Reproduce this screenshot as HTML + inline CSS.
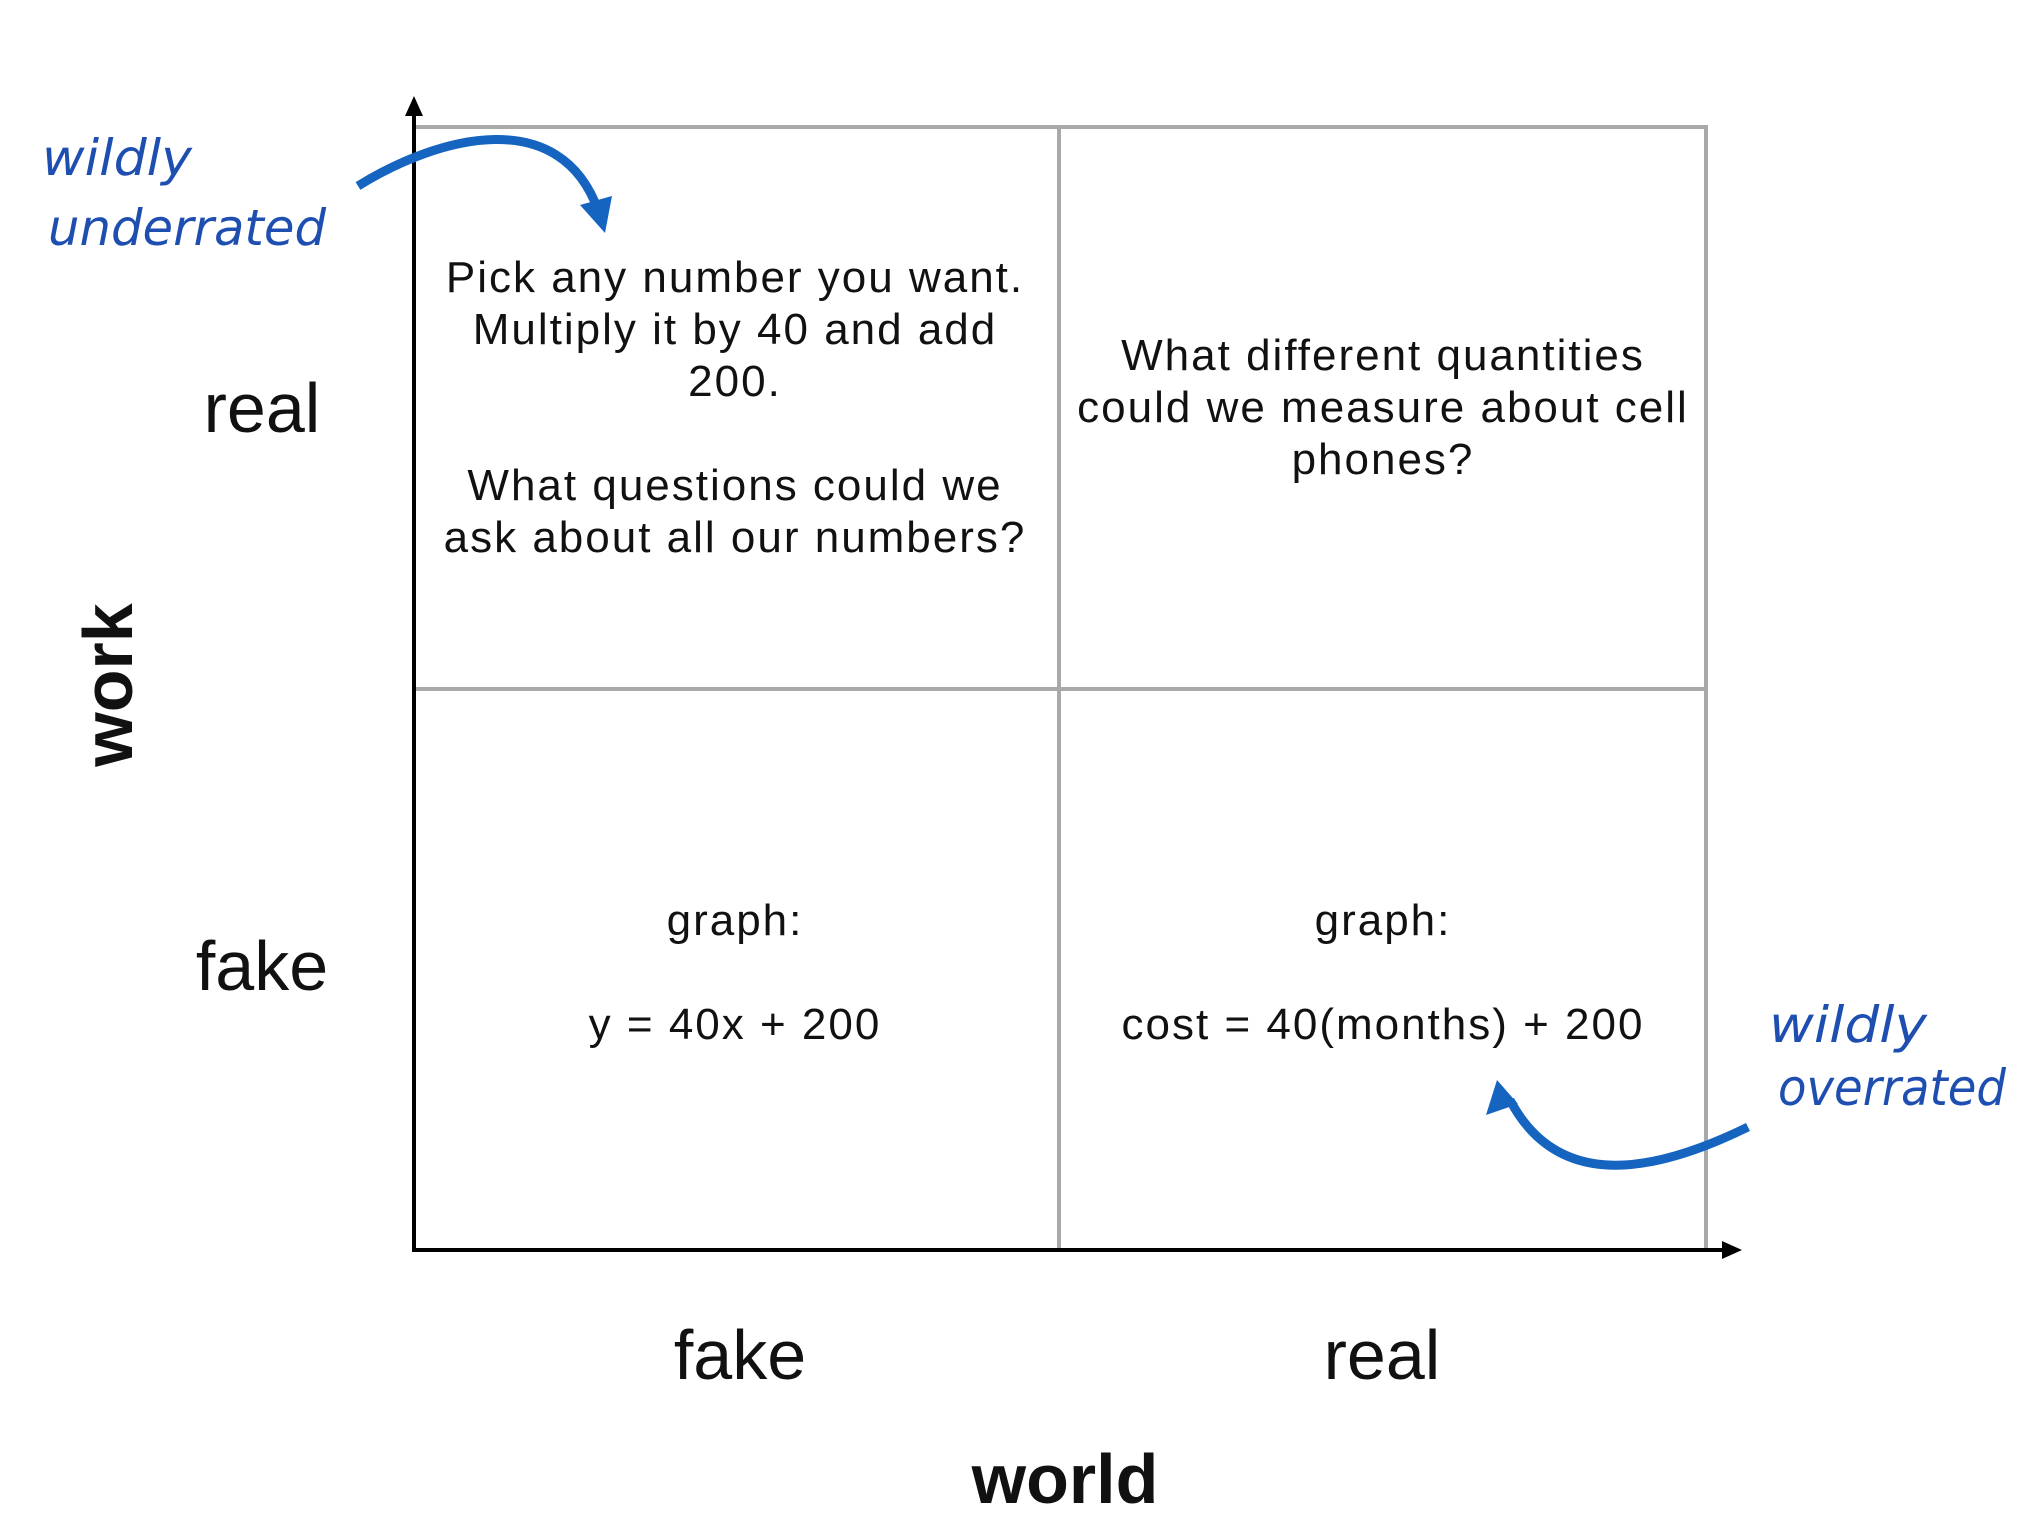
<!DOCTYPE html>
<html><head><meta charset="utf-8"><style>
html,body{margin:0;padding:0;background:#fff;}
svg{display:block;}
</style></head><body>
<svg width="2044" height="1530" viewBox="0 0 2044 1530" xmlns="http://www.w3.org/2000/svg">
<g stroke="#a9a9a9" stroke-width="4" fill="none">
<rect x="414" y="127" width="1292" height="1123"/>
<line x1="1059" y1="127" x2="1059" y2="1250"/>
<line x1="414" y1="689" x2="1706" y2="689"/>
</g>
<g stroke="#000" stroke-width="4">
<line x1="414" y1="112" x2="414" y2="1250"/>
<line x1="412" y1="1250" x2="1726" y2="1250"/>
</g>
<polygon points="414,96 405,116 423,116" fill="#000"/>
<polygon points="1742,1250 1722,1241 1722,1259" fill="#000"/>
<g font-family="Liberation Sans, sans-serif" font-size="44" fill="#111" text-anchor="middle" letter-spacing="2">
<text x="735" y="292">Pick any number you want.</text>
<text x="735" y="344">Multiply it by 40 and add</text>
<text x="735" y="396">200.</text>
<text x="735" y="500">What questions could we</text>
<text x="735" y="552">ask about all our numbers?</text>
<text x="1383" y="370">What different quantities</text>
<text x="1383" y="422">could we measure about cell</text>
<text x="1383" y="474">phones?</text>
<text x="735" y="935">graph:</text>
<text x="735" y="1039">y = 40x + 200</text>
<text x="1383" y="935">graph:</text>
<text x="1383" y="1039">cost = 40(months) + 200</text>
</g>
<g font-family="Liberation Sans, sans-serif" font-size="70" fill="#111" text-anchor="middle">
<text x="262" y="432">real</text>
<text x="262" y="990">fake</text>
<text x="740" y="1379">fake</text>
<text x="1382" y="1379">real</text>
<text x="1065" y="1503" font-weight="bold">world</text>
<text transform="translate(132,685) rotate(-90)" font-weight="bold">work</text>
</g>
<g fill="none" stroke="#1565c0" stroke-width="9">
<path d="M358,186 C440,135 560,105 598,210"/>
<path d="M1748,1127 C1660,1170 1560,1195 1510,1100"/>
</g>
<polygon points="605,233 580,205 612,196" fill="#1565c0"/>
<polygon points="1497,1080 1486,1115 1518,1104" fill="#1565c0"/>
<g font-family="DejaVu Sans, sans-serif" font-size="50" fill="#1e4fb0" font-style="italic" font-weight="300">
<text x="42" y="175" textLength="150" lengthAdjust="spacingAndGlyphs">wildly</text>
<text x="48" y="245" textLength="278" lengthAdjust="spacingAndGlyphs">underrated</text>
<text x="1769" y="1042" textLength="158" lengthAdjust="spacingAndGlyphs">wildly</text>
<text x="1778" y="1105" textLength="228" lengthAdjust="spacingAndGlyphs">overrated</text>
</g>
</svg>
</body></html>
